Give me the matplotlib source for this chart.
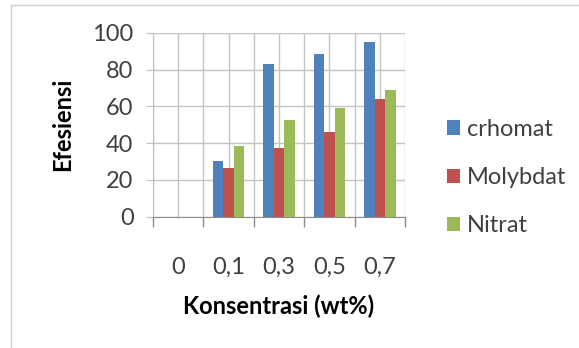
import matplotlib.pyplot as plt
import numpy as np
from matplotlib.lines import Line2D

plt.rcParams['font.family'] = ['Lato', 'DejaVu Sans']

categories = ['0', '0,1', '0,3', '0,5', '0,7']
crhomat = [0, 30.4, 82.8, 88.6, 95.1]
molybdat = [0, 26.6, 37.1, 45.8, 63.8]
nitrat = [0, 38.4, 52.4, 58.9, 68.8]
series = ['crhomat', 'Molybdat', 'Nitrat']
colors = ['#4F81BD', '#C0504D', '#9BBB59']

fig = plt.figure(figsize=(5.79, 3.48), dpi=100)
ax = fig.add_axes([0.2642, 0.3773, 0.4353, 0.5287])

x = np.arange(len(categories))
w = 0.21
for i, (vals, name) in enumerate(zip([crhomat, molybdat, nitrat], series)):
    ax.bar(x + (i - 1) * w, vals, w, color=colors[i], label=name, zorder=3)

ax.set_xlim(-0.5, len(categories) - 0.5)
ax.set_ylim(0, 100)
ax.set_yticks(np.arange(0, 101, 20))

# labels at category centres, tick marks at the boundaries
ax.set_xticks(x)
ax.set_xticklabels(categories)
ax.set_xticks(np.arange(-0.5, len(categories), 1), minor=True)
ax.tick_params(axis='x', which='major', length=0, pad=29, labelsize=17, colors='#404040')
ax.tick_params(axis='x', which='minor', length=7, color='#8C8C8C', width=1)
ax.tick_params(axis='y', length=5, color='#BFBFBF', pad=9, labelsize=17, colors='#404040')

ax.grid(True, which='both', color='#C4C4C4', linewidth=1, zorder=0)
for s in ['top', 'right']:
    ax.spines[s].set_visible(False)
ax.spines['left'].set_color('#BFBFBF')
ax.spines['bottom'].set_color('#8C8C8C')

ax.set_ylabel('Efesiensi', fontsize=17, fontweight='bold', labelpad=13)
ax.set_xlabel('Konsentrasi (wt%)', fontsize=17, fontweight='bold', labelpad=12)

ax.legend(loc='center left', bbox_to_anchor=(0.735, 0.49), bbox_transform=fig.transFigure,
          frameon=False, fontsize=17, handlelength=0.55, handleheight=0.55,
          handletextpad=0.3, labelspacing=1.15, labelcolor='#404040')

# outer frame of the chart area
fig.add_artist(Line2D([0.019, 0.019], [0, 0.985], color='#D0D0D0', lw=1))
fig.add_artist(Line2D([0.019, 1], [0.985, 0.985], color='#D0D0D0', lw=1))

fig.savefig('out.png', dpi=100)
